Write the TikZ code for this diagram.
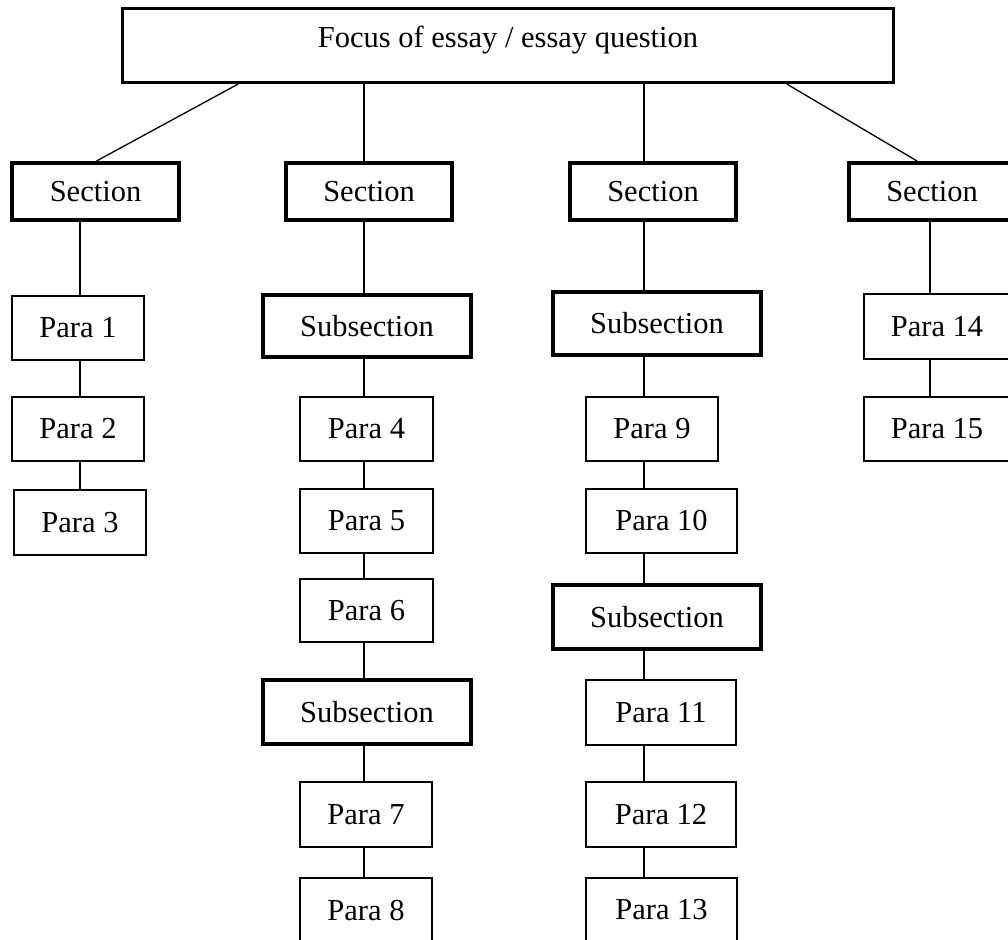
\documentclass[tikz,border=0pt]{standalone}
\usepackage{fontspec}
\setmainfont{Liberation Serif}
% box drawn from its edges: style, name, left, right, top, bottom, text
\newcommand{\edgebox}[7]{%
  \node[#1, minimum width={(#4)-(#3)}, minimum height={(#6)-(#5)}]
    (#2) at ({((#3)+(#4))/2},{((#5)+(#6))/2}) {#7};}
\begin{document}
\begin{tikzpicture}[x=1pt,y=-1pt,
  box/.style={draw, rectangle, inner sep=0pt, fill=white,
    font=\fontsize{30.5}{36}\selectfont},
  para/.style={box, line width=1.3pt},
  sect/.style={box, line width=4pt},
  topbox/.style={box, line width=3.3pt, text height=39.5pt, text depth=34.5pt},
  link/.style={line width=1.3pt}]
\useasboundingbox (0,0) rectangle (1008,939);
\clip (0,0) rectangle (1008,939);

% column axes for the vertical connectors
\coordinate (c1) at (80,0);
\coordinate (c2) at (364,0);
\coordinate (c3) at (644,0);
\coordinate (c4) at (930,0);

% essay focus
\edgebox{topbox}{top}{122.5}{893.5}{8.5}{82.5}{Focus of essay / essay question}

% sections
\edgebox{sect}{sec1}{12}{179}{163}{220}{Section}
\edgebox{sect}{sec2}{286}{452}{163}{220}{Section}
\edgebox{sect}{sec3}{570}{736}{163}{220}{Section}
\edgebox{sect}{sec4}{849}{1015}{163}{220}{Section}

% column 1
\edgebox{para}{p1}{12}{144}{296}{360}{Para 1}
\edgebox{para}{p2}{12}{144}{397}{461}{Para 2}
\edgebox{para}{p3}{14}{146}{490}{555}{Para 3}

% column 2
\edgebox{sect}{sub2a}{263}{471}{295}{357}{Subsection}
\edgebox{para}{p4}{300}{433}{397}{461}{Para 4}
\edgebox{para}{p5}{300}{433}{489}{553}{Para 5}
\edgebox{para}{p6}{300}{433}{579}{642}{Para 6}
\edgebox{sect}{sub2b}{263}{471}{680}{744}{Subsection}
\edgebox{para}{p7}{300}{432}{782}{847}{Para 7}
\edgebox{para}{p8}{300}{432}{878}{942}{Para 8}

% column 3
\edgebox{sect}{sub3a}{553}{761}{292}{355}{Subsection}
\edgebox{para}{p9}{586}{718}{397}{461}{Para 9}
\edgebox{para}{p10}{586}{737}{489}{553}{Para 10}
\edgebox{sect}{sub3b}{553}{761}{585}{649}{Subsection}
\edgebox{para}{p11}{586}{736}{680}{745}{Para 11}
\edgebox{para}{p12}{586}{736}{782}{847}{Para 12}
\edgebox{para}{p13}{586}{737}{878}{942}{Para 13}

% column 4
\edgebox{para}{p14}{864}{1010}{294}{359}{Para 14}
\edgebox{para}{p15}{864}{1010}{397}{461}{Para 15}

% connectors from the essay focus to the sections
\draw[link] ([xshift=-270]top.south) -- ([xshift=1]sec1.north);
\draw[link] (top.south -| c2) -- (sec2.north -| c2);
\draw[link] (top.south -| c3) -- (sec3.north -| c3);
\draw[link] ([xshift=279]top.south) -- ([xshift=-15]sec4.north);

% connectors down each column
\foreach \a/\b in {sec1/p1, p1/p2, p2/p3}
  \draw[link] (\a.south -| c1) -- (\b.north -| c1);
\foreach \a/\b in {sec2/sub2a, sub2a/p4, p4/p5, p5/p6, p6/sub2b, sub2b/p7, p7/p8}
  \draw[link] (\a.south -| c2) -- (\b.north -| c2);
\foreach \a/\b in {sec3/sub3a, sub3a/p9, p9/p10, p10/sub3b, sub3b/p11, p11/p12, p12/p13}
  \draw[link] (\a.south -| c3) -- (\b.north -| c3);
\foreach \a/\b in {sec4/p14, p14/p15}
  \draw[link] (\a.south -| c4) -- (\b.north -| c4);
\end{tikzpicture}
\end{document}
